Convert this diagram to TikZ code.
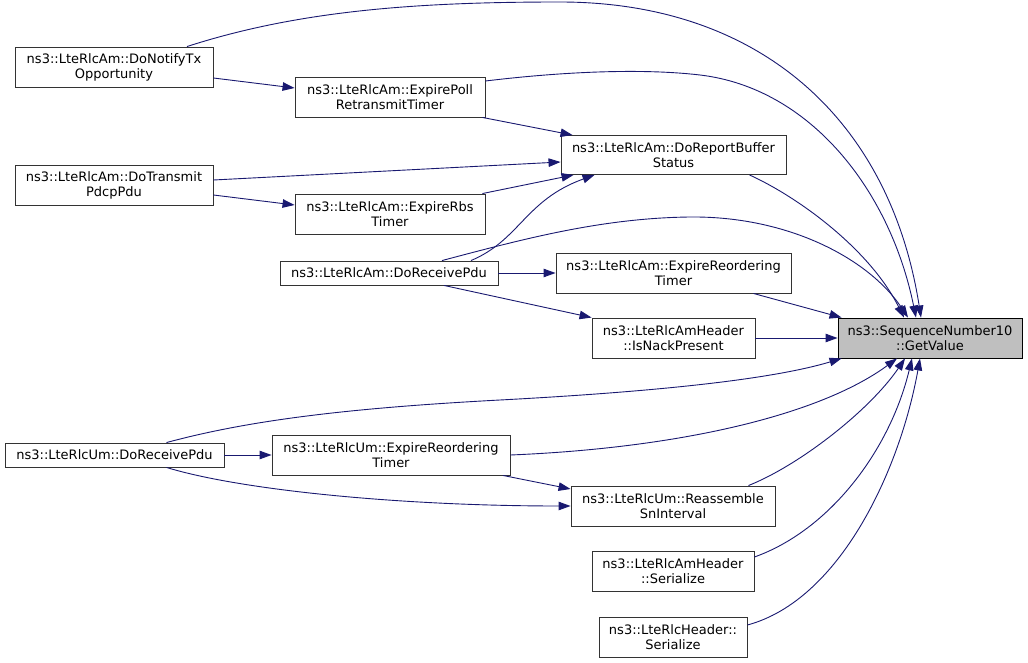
\documentclass[tikz,border=0pt]{standalone}
\usepackage{fontspec}
\setmainfont{DejaVu Sans}
\usetikzlibrary{arrows.meta}
\definecolor{edgeblue}{HTML}{191970}
\definecolor{hl}{HTML}{BFBFBF}
\tikzset{
  fn/.style={draw=black!80, line width=0.9pt, minimum height=40pt, inner sep=0pt, align=center, font=\fontsize{13}{15}\selectfont},
  fnone/.style={fn, minimum height=24pt},
  cur/.style={fn, fill=hl, draw=black},
  edge/.style={draw=edgeblue, line width=0.9pt, -{Triangle[length=12pt,width=8.5pt]}}
}
\begin{document}
\begin{tikzpicture}[x=1pt,y=-1pt]
\useasboundingbox (0,0) rectangle (1028,663);
\node[fn, minimum width=198pt] (notify) at (114,67) {ns3::LteRlcAm::DoNotifyTx\\Opportunity};
\node[fn, minimum width=190pt] (poll) at (390,97) {ns3::LteRlcAm::ExpirePoll\\RetransmitTimer};
\node[fn, minimum width=198pt] (transmit) at (114,185) {ns3::LteRlcAm::DoTransmit\\PdcpPdu};
\node[fn, minimum width=190pt] (rbs) at (390,214) {ns3::LteRlcAm::ExpireRbs\\Timer};
\node[fn, minimum width=225pt, minimum height=39pt] (report) at (673.5,155) {ns3::LteRlcAm::DoReportBuffer\\Status};
\node[fnone, minimum width=218pt] (amrecv) at (389,273) {ns3::LteRlcAm::DoReceivePdu};
\node[fn, minimum width=235pt] (amreord) at (673.5,273) {ns3::LteRlcAm::ExpireReordering\\Timer};
\node[fn, minimum width=163pt] (nack) at (673.5,338) {ns3::LteRlcAmHeader\\::IsNackPresent};
\node[cur, minimum width=184pt] (getvalue) at (930,338) {ns3::SequenceNumber10\\::GetValue};
\node[fnone, minimum width=219pt] (umrecv) at (114.5,455) {ns3::LteRlcUm::DoReceivePdu};
\node[fn, minimum width=238pt] (umreord) at (391,455) {ns3::LteRlcUm::ExpireReordering\\Timer};
\node[fn, minimum width=204pt] (reass) at (673,506) {ns3::LteRlcUm::Reassemble\\SnInterval};
\node[fn, minimum width=162pt] (amser) at (673,571) {ns3::LteRlcAmHeader\\::Serialize};
\node[fn, minimum width=148pt] (hdrser) at (673,637) {ns3::LteRlcHeader::\\Serialize};

% edges
\draw[edge] ([xshift=73pt]notify.north) .. controls (300,10) and (420,2) .. (560,2) .. controls (760,2) and (890,120) .. ([xshift=-9pt]getvalue.north);
\draw[edge] ([yshift=-11pt]notify.east) -- ([yshift=9pt]poll.west);
\draw[edge] ([yshift=16pt]poll.east) .. controls (560,72) and (640,68) .. (700,75) .. controls (810,88) and (890,190) .. ([xshift=-14pt]getvalue.north);
\draw[edge] ([xshift=-3pt]poll.south east) -- ([xshift=12pt]report.north west);
\draw[edge] ([yshift=5pt]transmit.east) -- ([yshift=-7pt]report.west);
\draw[edge] ([yshift=-10pt]transmit.east) -- ([yshift=9pt]rbs.west);
\draw[edge] ([xshift=-3pt]rbs.north east) -- ([xshift=13pt]report.south west);
\draw[edge] ([xshift=82pt]amrecv.north) .. controls (520,240) and (525,200) .. ([xshift=34pt]report.south west);
\draw[edge] ([xshift=53pt]amrecv.north) .. controls (520,240) and (600,218) .. (690,217) .. controls (790,216) and (870,260) .. ([xshift=-22pt]getvalue.north);
\draw[edge] ([xshift=76pt]report.south) .. controls (800,198) and (870,250) .. ([xshift=-26pt]getvalue.north);
\draw[edge] (amrecv.east) -- (amreord.west);
\draw[edge] ([xshift=55pt]amrecv.south) -- (nack.north west);
\draw[edge] ([xshift=-38pt]amreord.south east) -- ([xshift=4pt]getvalue.north west);
\draw[edge] (nack.east) -- (getvalue.west);
\draw[edge] ([xshift=52pt]umrecv.north) .. controls (250,420) and (350,408) .. (500,400) .. controls (650,392) and (770,380) .. ([xshift=4pt]getvalue.south west);
\draw[edge] (umrecv.east) -- (umreord.west);
\draw[edge] ([xshift=52pt]umrecv.south) .. controls (240,490) and (400,506) .. (reass.west);
\draw[edge] (umreord.east) .. controls (680,448) and (820,415) .. ([xshift=-33pt]getvalue.south);
\draw[edge] ([xshift=112pt]umreord.south) -- ([yshift=17pt]reass.west);
\draw[edge] ([xshift=-27pt]reass.north east) .. controls (800,465) and (870,410) .. ([xshift=-25pt]getvalue.south);
\draw[edge] ([yshift=14pt]amser.east) .. controls (830,530) and (890,450) .. ([xshift=-18pt]getvalue.south);
\draw[edge] ([yshift=12pt]hdrser.east) .. controls (840,600) and (900,470) .. ([xshift=-10pt]getvalue.south);
\end{tikzpicture}
\end{document}
